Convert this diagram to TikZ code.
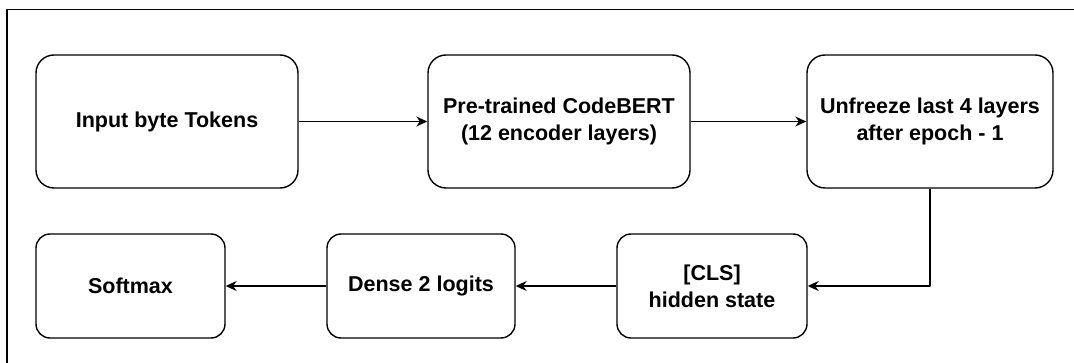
\documentclass[tikz,border=0pt]{standalone}
\usepackage{fontspec}
\setmainfont{Liberation Sans}
\usetikzlibrary{arrows.meta}

\tikzset{CodeBertBox/.style={draw,line width=1.4pt,rounded corners=18pt,align=center,
           inner sep=0pt,font=\fontsize{21.5}{27}\selectfont\bfseries},
         CodeBertLow/.style={CodeBertBox,rounded corners=14pt,minimum height=104pt},
         CodeBertArrow/.style={line width=1.3pt,-{Stealth[length=11pt,width=10pt]}}}

\begin{document}
\begin{tikzpicture}[x=1pt,y=-1pt,line join=round]
  \useasboundingbox (0,0) rectangle (1074,363);
  \clip (0,0) rectangle (1074,363);
  % frame, cut off at the right and at the bottom
  \draw[line width=1.4pt] (7,9.5) rectangle (1090,380);
  % upper row
  \node[CodeBertBox,minimum width=262pt,minimum height=133pt] (tokens) at (167,121.5)
    {Input byte Tokens};
  \node[CodeBertBox,minimum width=262pt,minimum height=133pt] (codebert) at (559,121.5)
    {Pre-trained CodeBERT\\(12 encoder layers)};
  \node[CodeBertBox,minimum width=246pt,minimum height=133pt] (unfreeze) at (930,121.5)
    {Unfreeze last 4 layers\\after epoch - 1};
  % lower row
  \node[CodeBertLow,minimum width=190pt] (cls) at (712,286) {[CLS]\\hidden state};
  \node[CodeBertLow,minimum width=188pt] (dense) at (421,286) {Dense 2 logits};
  \node[CodeBertLow,minimum width=189pt] (softmax) at (130.5,286) {Softmax};
  % connectors
  \draw[CodeBertArrow] (tokens) -- (codebert);
  \draw[CodeBertArrow] (codebert) -- (unfreeze);
  \draw[CodeBertArrow] (unfreeze.south) |- (cls.east);
  \draw[CodeBertArrow] (cls) -- (dense);
  \draw[CodeBertArrow] (dense) -- (softmax);
\end{tikzpicture}
\end{document}
